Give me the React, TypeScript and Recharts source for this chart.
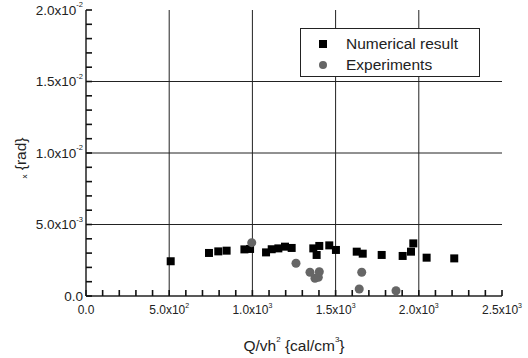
import { ScatterChart, Scatter, XAxis, YAxis, CartesianGrid } from 'recharts'

// numerical result (Q/vh^2, theta_x)
const numQ = [509, 739, 795, 845, 952, 986, 1082, 1116, 1156, 1196, 1236, 1366, 1386, 1402, 1462, 1502, 1627, 1663, 1777, 1903, 1953, 1967, 2047, 2213]
const numT = [0.00243, 0.00301, 0.00312, 0.00317, 0.00326, 0.00329, 0.00305, 0.00327, 0.00333, 0.00345, 0.00336, 0.00333, 0.00287, 0.0035, 0.00354, 0.00322, 0.0031, 0.00296, 0.00287, 0.0028, 0.0031, 0.00368, 0.00268, 0.00263]
// experiments
const expQ = [996, 1262, 1346, 1376, 1396, 1402, 1657, 1642, 1863]
const expT = [0.00373, 0.00229, 0.00166, 0.00124, 0.00131, 0.0017, 0.00166, 0.00049, 0.00037]

const xTicks = [0, 100, 200, 300, 400, 500, 600, 700, 800, 900, 1000, 1100, 1200, 1300, 1400, 1500, 1600, 1700, 1800, 1900, 2000, 2100, 2200, 2300, 2400, 2500]
const yTicks = [0, 0.001, 0.002, 0.003, 0.004, 0.005, 0.006, 0.007, 0.008, 0.009, 0.01, 0.011, 0.012, 0.013, 0.014, 0.015, 0.016, 0.017, 0.018, 0.019, 0.02]
const xLabels: Record<number, [string, string]> = { 0: ['0.0', ''], 500: ['5.0x10', '2'], 1000: ['1.0x10', '3'], 1500: ['1.5x10', '3'], 2000: ['2.0x10', '3'], 2500: ['2.5x10', '3'] }
const yLabels: [string, string][] = [['0.0', ''], ['5.0x10', '-3'], ['1.0x10', '-2'], ['1.5x10', '-2'], ['2.0x10', '-2']]
const seriesNames = ['Numerical result', 'Experiments']

const numData = numQ.map((q, i) => ({ q, t: numT[i] }))
const expData = expQ.map((q, i) => ({ q, t: expT[i] }))

const INK = '#222'
const FONT = 'Arial, "Liberation Sans", Helvetica, sans-serif'
const tl = { stroke: '#111', strokeWidth: 1.6 }

const XTick = (p: any) => {
  const l = xLabels[p.payload.value]
  if (!l) return <g />
  return (
    <text x={p.x} y={p.y + 14} textAnchor="middle" dominantBaseline="central" fontSize={12} fill={INK} fontFamily={FONT}>
      {l[0]}{l[1] && <tspan dy={-5} fontSize={7}>{l[1]}</tspan>}
    </text>
  )
}
const YTick = (p: any) => {
  const i = p.index
  if (i % 5 !== 0) return <g />
  const l = yLabels[i / 5]
  return (
    <text x={p.x} y={p.y} textAnchor="end" dominantBaseline="central" fontSize={13.5} fill={INK} fontFamily={FONT}>
      {l[0]}{l[1] && <tspan dy={-6} fontSize={7.5}>{l[1]}</tspan>}
    </text>
  )
}
const NoTick = () => <g />

export default function App() {
  return (
    <div style={{ position: 'absolute', left: 0, top: 0, width: 528, height: 358, background: '#fff', fontFamily: FONT }}>
      <ScatterChart width={528} height={358} margin={{ top: 10, right: 26, bottom: 22, left: 6 }}>
        <CartesianGrid stroke={INK} strokeWidth={1} verticalValues={[500, 1000, 1500, 2000]} horizontalValues={[0.005, 0.01, 0.015]} />
        <XAxis type="number" dataKey="q" domain={[0, 2500]} ticks={xTicks} interval={0} allowDataOverflow height={40}
          stroke={INK} strokeWidth={1.5} tickLine={tl} tickSize={-6} tickMargin={6} tick={<XTick />} />
        <XAxis xAxisId="top" orientation="top" type="number" dataKey="q" domain={[0, 2500]} ticks={xTicks} interval={0} allowDataOverflow height={0}
          stroke={INK} strokeWidth={1.5} tickLine={tl} tickSize={-6} tick={<NoTick />} />
        <YAxis type="number" dataKey="t" domain={[0, 0.02]} ticks={yTicks} interval={0} allowDataOverflow width={80}
          stroke={INK} strokeWidth={1.5} tickLine={tl} tickSize={-6} tickMargin={9} tick={<YTick />} />
        <YAxis yAxisId="right" orientation="right" type="number" dataKey="t" domain={[0, 0.02]} ticks={yTicks} interval={0} allowDataOverflow width={0}
          stroke={INK} strokeWidth={1.5} tickLine={tl} tickSize={-6} tick={<NoTick />} />
        <Scatter name={seriesNames[0]} data={numData} fill="#000" shape="square" isAnimationActive={false} />
        <Scatter name={seriesNames[1]} data={expData} fill="#666" shape="circle" isAnimationActive={false} />
        <Scatter xAxisId="top" yAxisId="right" data={numData} fill="none" shape={() => <g />} isAnimationActive={false} />
      </ScatterChart>
      <svg width={528} height={358} style={{ position: 'absolute', left: 0, top: 0, pointerEvents: 'none' }}>
        <text x={294} y={345} textAnchor="middle" dominantBaseline="central" fontSize={15.5} fill={INK} fontFamily={FONT}>
          Q/vh<tspan dy={-6} fontSize={8}>2</tspan><tspan dy={6}> {'{cal/cm'}</tspan><tspan dy={-6} fontSize={8}>3</tspan><tspan dy={6}>{'}'}</tspan>
        </text>
        <text transform="translate(20,158) rotate(-90)" textAnchor="middle" dominantBaseline="central" fontSize={15.5} fill={INK} fontFamily={FONT}>
          <tspan fontSize={8} dy={4}>x</tspan><tspan dy={-4}> {'{rad}'}</tspan>
        </text>
      </svg>
      <div style={{ position: 'absolute', left: 300, top: 28, border: `1.5px solid ${INK}`, width: 180, height: 49, boxSizing: 'border-box', background: '#fff', fontFamily: FONT, fontSize: 15.5, color: INK, padding: '4px 0 0 18px', lineHeight: '21px' }}>
        <div style={{ display: 'flex', alignItems: 'center' }}>
          <span style={{ width: 8, height: 8, background: '#000', display: 'inline-block', marginRight: 19 }} />{seriesNames[0]}
        </div>
        <div style={{ display: 'flex', alignItems: 'center' }}>
          <span style={{ width: 8, height: 8, borderRadius: 4, background: '#666', display: 'inline-block', marginRight: 19 }} />{seriesNames[1]}
        </div>
      </div>
    </div>
  )
}
